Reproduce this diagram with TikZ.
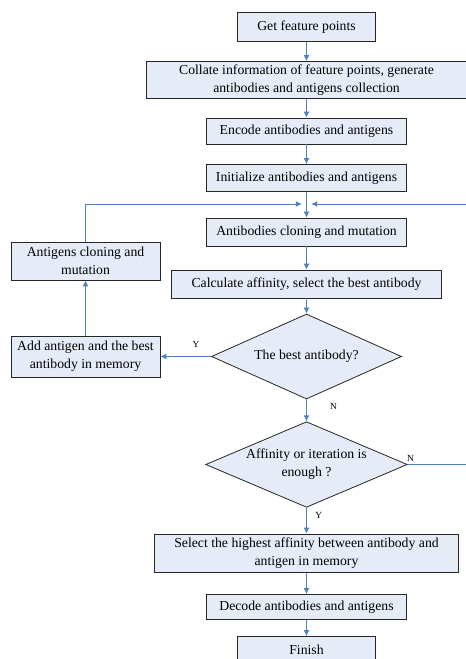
\documentclass[tikz,border=0pt]{standalone}
\usepackage{fontspec}
\setmainfont{Liberation Serif}
\usepackage{tikz}
\usepackage{xcolor}
\usetikzlibrary{shapes.geometric, positioning, arrows.meta}

\definecolor{boxfill}{RGB}{230,236,247}
\definecolor{flowblue}{RGB}{79,129,189}

\tikzset{
    stepbox/.style={draw=black!85, line width=0.6pt, fill=boxfill, inner sep=0pt, align=center,
        font=\fontsize{10.3}{13.5}\selectfont},
    decision/.style={diamond, aspect=2.3, draw=black!85, line width=0.6pt, fill=boxfill, inner sep=0pt, align=center,
        font=\fontsize{10.3}{13.5}\selectfont},
    flow/.style={draw=flowblue, line width=0.75pt, ->},
    yn/.style={font=\fontsize{7}{8}\selectfont, text=black}
}

\begin{document}
\begin{tikzpicture}[x=0.75pt, y=-0.75pt, >={Latex[length=4.5pt,width=4.5pt]}]
        \useasboundingbox (0,0) rectangle (465,659);

        \node[stepbox, minimum width=103.5pt, minimum height=21.75pt] (b1) at (306.5, 27) {Get feature points};
        \node[stepbox, minimum width=240.75pt, minimum height=27.75pt] (b2) at (306.5, 80) {Collate information of feature points, generate\\antibodies and antigens collection};
        \node[stepbox, minimum width=150pt, minimum height=19.5pt] (b3) at (306.5, 131) {Encode antibodies and antigens};
        \node[stepbox, minimum width=150pt, minimum height=20.25pt] (b4) at (306.5, 178) {Initialize antibodies and antigens};
        \coordinate (m) at (306.5, 204);
        \node[stepbox, minimum width=150pt, minimum height=21pt] (b5) at (306.5, 232) {Antibodies cloning and mutation};
        \node[stepbox, minimum width=202.5pt, minimum height=21pt] (b6) at (306.5, 284) {Calculate affinity, select the best antibody};
        \node[decision, minimum width=142.5pt, minimum height=63.75pt] (d1) at (306.5, 356.5) {The best antibody?};
        \node[stepbox, minimum width=111.75pt, minimum height=30.75pt] (add) at (85.5, 356.5) {Add antigen and the best\\antibody in memory};
        \node[stepbox, minimum width=111.75pt, minimum height=28.5pt] (ag) at (85.5, 261) {Antigens cloning and\\mutation};
        \node[decision, minimum width=151.2pt, minimum height=64.2pt] (d2) at (306.5, 464.5) {Affinity or iteration is\\enough ?};
        \coordinate (rc) at (468, 204);
        \node[stepbox, minimum width=227.7pt, minimum height=29pt] (b7) at (306.5, 553.3) {Select the highest affinity between antibody and\\antigen in memory};
        \node[stepbox, minimum width=150pt, minimum height=18.75pt] (b8) at (306.5, 607) {Decode antibodies and antigens};
        \node[stepbox, minimum width=103.5pt, minimum height=20.25pt] (b9) at (306.5, 650) {Finish};

        \draw[flow] (b1) -- (b2);
        \draw[flow] (b2) -- (b3);
        \draw[flow] (b3) -- (b4);
        \draw[flow, -] (b4) -- (m);
        \draw[flow] (m) -- (b5);
        \draw[flow] (b5) -- (b6);
        \draw[flow] (b6) -- (d1);
        \draw[flow] (d1) -- node[yn, pos=0.3, above=3pt] {Y} (add);
        \draw[flow] (add) -- (ag);
        \draw[flow, shorten >=3.5pt] (ag.north) |- (m);
        \draw[flow] (d1) -- node[yn, pos=0.3, right=14pt] {N} (d2);
        \draw[flow, shorten >=3.5pt] (d2.east) -| (rc) -- (m);
        \node[yn, above right=-1pt and -4pt] (nr) at (d2.east) {N};
        \draw[flow] (d2) -- node[yn, pos=0.3, right=3pt] {Y} (b7);
        \draw[flow] (b7) -- (b8);
        \draw[flow] (b8) -- (b9);
    \end{tikzpicture}
\end{document}
